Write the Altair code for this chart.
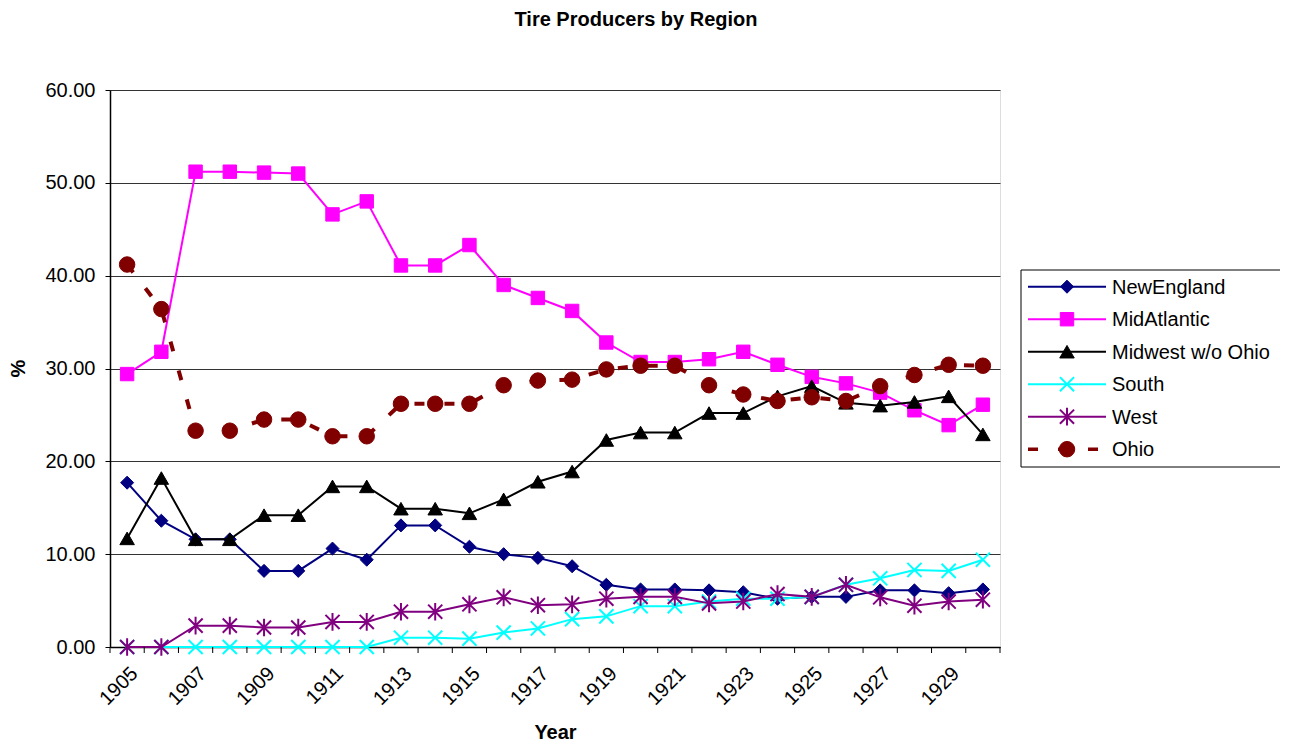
import altair as alt
import pandas as pd

# ---------------- data ----------------
years = list(range(1905, 1931))
series_names = ["NewEngland", "MidAtlantic", "Midwest w/o Ohio", "South", "West", "Ohio"]
new_england = [17.7, 13.6, 11.6, 11.6, 8.2, 8.2, 10.6, 9.4, 13.1, 13.1, 10.8, 10.0, 9.6,
               8.7, 6.7, 6.2, 6.2, 6.1, 5.9, 5.2, 5.4, 5.4, 6.1, 6.1, 5.8, 6.2]
mid_atlantic = [29.4, 31.8, 51.2, 51.2, 51.1, 51.0, 46.6, 48.0, 41.1, 41.1, 43.3, 39.0, 37.6,
                36.2, 32.8, 30.7, 30.7, 31.0, 31.8, 30.4, 29.1, 28.4, 27.4, 25.5, 23.9, 26.1]
midwest = [11.7, 18.2, 11.6, 11.6, 14.2, 14.2, 17.3, 17.3, 14.9, 14.9, 14.4, 15.9, 17.8,
           18.9, 22.3, 23.1, 23.1, 25.2, 25.2, 27.0, 28.1, 26.3, 26.0, 26.4, 27.0, 22.9]
south = [0, 0, 0, 0, 0, 0, 0, 0, 1.0, 1.0, 0.9, 1.55, 2.0,
         3.0, 3.3, 4.4, 4.4, 4.9, 5.2, 5.2, 5.4, 6.7, 7.4, 8.3, 8.2, 9.4]
west = [0, 0, 2.3, 2.3, 2.1, 2.1, 2.7, 2.7, 3.8, 3.8, 4.6, 5.35, 4.5,
        4.6, 5.2, 5.4, 5.4, 4.7, 4.9, 5.7, 5.4, 6.7, 5.35, 4.45, 4.9, 5.1]
ohio = [41.2, 36.4, 23.3, 23.3, 24.5, 24.5, 22.7, 22.7, 26.2, 26.2, 26.2, 28.2, 28.7,
        28.8, 29.9, 30.3, 30.3, 28.2, 27.2, 26.5, 26.9, 26.5, 28.1, 29.3, 30.4, 30.3]
y_ticks = [0, 10, 20, 30, 40, 50, 60]
x_label_years = years[::2]  # 1905, 1907, ..., 1929

values = [new_england, mid_atlantic, midwest, south, west, ohio]
rows = []
for name, vals in zip(series_names, values):
    for yr, v in zip(years, vals):
        rows.append({"Year": yr, "Value": v, "Series": name})
df = pd.DataFrame(rows)
legend_df = pd.DataFrame({"Series": series_names})
tick_df = pd.DataFrame({"b": [y - 0.5 for y in years] + [years[-1] + 0.5]})

# ---------------- styles ----------------
FONT = "Liberation Sans"
W, H = 890, 557
styles = {
    "NewEngland": dict(color="#000080", shape="diamond", size=170, filled=True, dash=None, lw=2),
    "MidAtlantic": dict(color="#FF00FF", shape="square", size=180, filled=True, dash=None, lw=2),
    "Midwest w/o Ohio": dict(color="#000000", shape="triangle-up", size=210, filled=True, dash=None, lw=2),
    "South": dict(color="#00FFFF", shape="M-1,-1L1,1M-1,1L1,-1", size=200, filled=False, dash=None, lw=2),
    "West": dict(color="#800080", shape="M-1,-1L1,1M-1,1L1,-1M0,-1.25L0,1.25", size=200, filled=False, dash=None, lw=2),
    "Ohio": dict(color="#800000", shape="circle", size=240, filled=True, dash=[10, 20], lw=4),
}

x_scale = alt.Scale(domain=[years[0] - 0.5, years[-1] + 0.5], nice=False, zero=False)
x_axis = alt.Axis(values=x_label_years, format="d", labelAngle=315, ticks=False,
                  grid=False, labelFont=FONT, labelFontSize=20, labelColor="#000000",
                  labelPadding=16, domainColor="#000000", domainWidth=1.5,
                  title="Year", titleFont=FONT, titleFontSize=20, titleFontWeight="bold",
                  titleX=W / 2, titleY=85, titleBaseline="middle", titleColor="#000000",
                  labelOverlap=False, labelFlush=False)
x_enc = alt.X("Year:Q", scale=x_scale, axis=x_axis)
y_enc = alt.Y("Value:Q",
              scale=alt.Scale(domain=[0, 60], nice=False),
              axis=alt.Axis(values=y_ticks, format=".2f", tickSize=5, labelPadding=10,
                            labelFont=FONT, labelFontSize=20, labelColor="#000000",
                            tickColor="#000000", domainColor="#000000", domainWidth=1.5,
                            gridColor="#333333", gridWidth=1,
                            title="%", titleFont=FONT, titleFontSize=20, titleFontWeight="bold",
                            titleX=-92, titleY=278, titleAngle=270, titleAlign="center",
                            titleBaseline="middle", titleColor="#000000"))

base = alt.Chart(df).encode(x=x_enc, y=y_enc)

layers = []
for name in series_names:
    st = styles[name]
    sub = base.transform_filter(alt.datum.Series == name)
    line_kwargs = dict(color=st["color"], strokeWidth=st["lw"])
    if st["dash"]:
        line_kwargs["strokeDash"] = st["dash"]
    layers.append(sub.mark_line(**line_kwargs))
    if st["filled"]:
        pt = sub.mark_point(shape=st["shape"], size=st["size"], filled=True, fill=st["color"],
                            stroke=st["color"], strokeWidth=1, opacity=1)
    else:
        pt = sub.mark_point(shape=st["shape"], size=st["size"], filled=False,
                            stroke=st["color"], strokeWidth=2, opacity=1)
    layers.append(pt)

# tick marks on category boundaries
layers.append(alt.Chart(tick_df).mark_rule(color="#000000", strokeWidth=1).encode(
    x=alt.X("b:Q", scale=x_scale, axis=x_axis),
    y=alt.value(H), y2=alt.value(H + 6)))

# ---------------- legend (drawn) ----------------
LX0, LX1, LY0, LY1 = 911, 1174, 180, 377
row_y0, row_dy = 196.7, 32.5
leg_base = alt.Chart(legend_df)
layers.append(leg_base.transform_filter(alt.datum.Series == series_names[0]).mark_rect(
    fill="white", stroke="#000000", strokeWidth=1).encode(
    x=alt.value(LX0), x2=alt.value(LX1), y=alt.value(LY0), y2=alt.value(LY1)))
for i, name in enumerate(series_names):
    st = styles[name]
    yy = row_y0 + i * row_dy
    lsub = leg_base.transform_filter(alt.datum.Series == name)
    rk = dict(color=st["color"], strokeWidth=st["lw"] if not st["dash"] else 3.5)
    if st["dash"]:
        rk["strokeDash"] = st["dash"]
    layers.append(lsub.mark_rule(**rk).encode(x=alt.value(918), x2=alt.value(996), y=alt.value(yy)))
    if st["filled"]:
        lp = lsub.mark_point(shape=st["shape"], size=st["size"], filled=True, fill=st["color"],
                             stroke=st["color"], strokeWidth=1, opacity=1)
    else:
        lp = lsub.mark_point(shape=st["shape"], size=st["size"], filled=False,
                             stroke=st["color"], strokeWidth=2, opacity=1)
    layers.append(lp.encode(x=alt.value(957), y=alt.value(yy)))
    layers.append(lsub.mark_text(align="left", baseline="middle", font=FONT, fontSize=20,
                                 color="#000000").encode(
        x=alt.value(1002), y=alt.value(yy + 1), text="Series:N"))

chart = alt.layer(*layers).properties(
    width=W, height=H,
    title=alt.TitleParams("Tire Producers by Region", font=FONT, fontSize=20, fontWeight="bold",
                          anchor="middle", dx=81, offset=50, color="#000000"),
    autosize=alt.AutoSizeParams(type="none"),
    padding={"left": 102, "top": 82, "right": 280, "bottom": 96},
).configure_view(stroke="#808080", strokeWidth=2).configure(background="white")

chart.save("out.html", embed_options={"renderer": "svg", "actions": False})
